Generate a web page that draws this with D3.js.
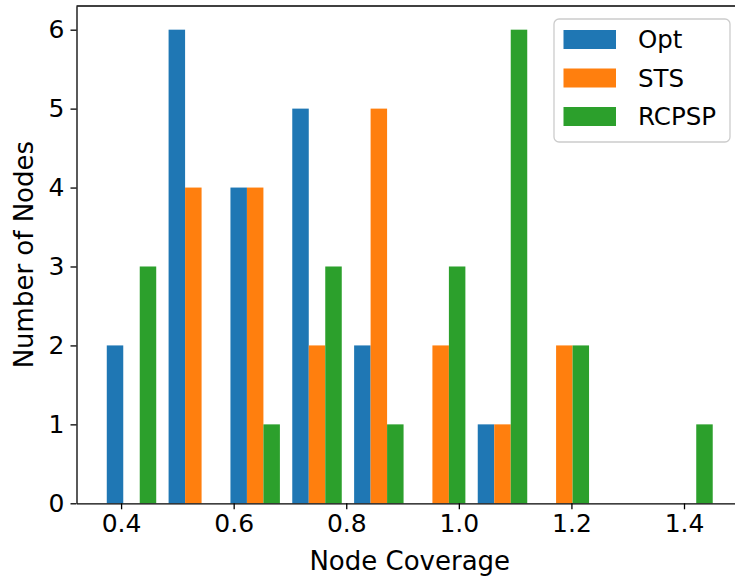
<!DOCTYPE html>
<html>
<head>
<meta charset="utf-8">
<script src="https://cdn.jsdelivr.net/npm/d3@7"></script>
<style>
  body { margin: 0; background: #fff; }
  svg { display: block; font-family: "DejaVu Sans", sans-serif; }
</style>
</head>
<body>
<svg id="chart" width="735" height="577"></svg>
<script>
// histogram bins (node coverage) and counts per method
var binEdges = [0.3636, 0.4734, 0.5833, 0.6931, 0.8030, 0.9128, 1.0226, 1.1325, 1.2423, 1.3522, 1.4620];
var optCounts = [2, 6, 4, 5, 2, 0, 1, 0, 0, 0];
var stsCounts = [0, 4, 4, 2, 5, 2, 1, 2, 0, 0];
var rcpspCounts = [3, 0, 1, 3, 1, 3, 6, 2, 0, 1];
var seriesNames = ["Opt", "STS", "RCPSP"];
var seriesColors = ["#1f77b4", "#ff7f0e", "#2ca02c"];
var xTicks = [0.4, 0.6, 0.8, 1.0, 1.2, 1.4];
var yTicks = [0, 1, 2, 3, 4, 5, 6];

var allCounts = [optCounts, stsCounts, rcpspCounts];
var tickFont = 25;
var titleFont = 26;
var legendFont = 24.5;

var svg = d3.select("#chart");
var plotLeft = 76.5, plotRight = 743, plotTop = 6, plotBottom = 503.3;

var x = d3.scaleLinear().domain([0.3208, 1.5048]).range([plotLeft, plotRight]);
var y = d3.scaleLinear().domain([0, 6.3]).range([plotBottom, plotTop]);

// bars, matplotlib style: 80% of the bin, split between the series
var bars = [];
for (var s = 0; s < allCounts.length; s++) {
    for (var i = 0; i < binEdges.length - 1; i++) {
        var w = binEdges[i+1] - binEdges[i];
        var bw = 0.8 * w / allCounts.length;
        var x0 = binEdges[i] + 0.1 * w + s * bw;
        if (allCounts[s][i] > 0) {
            bars.push({x0: x0, x1: x0 + bw, v: allCounts[s][i], s: s});
        }
    }
}

svg.selectAll("rect.bar")
    .data(bars)
    .enter()
    .append("rect")
        .attr("class", "bar")
        .attr("x", d => x(d.x0))
        .attr("width", d => x(d.x1) - x(d.x0))
        .attr("y", d => y(d.v))
        .attr("height", d => y(0) - y(d.v))
        .attr("fill", d => seriesColors[d.s]);

// axes
var xAxis = svg.append("g")
    .attr("transform", "translate(0," + plotBottom + ")")
    .call(d3.axisBottom(x).tickValues(xTicks).tickFormat(d3.format(".1f"))
        .tickSize(6).tickSizeOuter(0).tickPadding(5));

var yAxis = svg.append("g")
    .attr("transform", "translate(" + plotLeft + ",0)")
    .call(d3.axisLeft(y).tickValues(yTicks).tickFormat(d3.format("d"))
        .tickSize(6).tickSizeOuter(0).tickPadding(6));

[xAxis, yAxis].forEach(function(g){
    g.selectAll("text")
        .attr("font-family", "DejaVu Sans")
        .attr("font-size", tickFont)
        .attr("fill", "#000");
    g.selectAll("line").attr("stroke", "#000").attr("stroke-width", 1.3);
    g.select(".domain").attr("stroke", "#000").attr("stroke-width", 1.3);
});

// top spine (right spine falls outside the picture)
svg.append("line")
    .attr("x1", plotLeft).attr("x2", plotRight)
    .attr("y1", plotTop).attr("y2", plotTop)
    .attr("stroke", "#000").attr("stroke-width", 1.3);

// axis titles
svg.append("text")
    .attr("x", (plotLeft + plotRight) / 2)
    .attr("y", 570)
    .attr("text-anchor", "middle")
    .attr("font-size", titleFont)
    .text("Node Coverage");

svg.append("text")
    .attr("transform", "translate(33," + ((plotTop + plotBottom) / 2) + ") rotate(-90)")
    .attr("text-anchor", "middle")
    .attr("font-size", titleFont)
    .text("Number of Nodes");

// legend
var legend = svg.append("g").attr("transform", "translate(554,19)");
legend.append("rect")
    .attr("width", 176).attr("height", 123)
    .attr("rx", 5).attr("ry", 5)
    .attr("fill", "#fff").attr("fill-opacity", 0.8)
    .attr("stroke", "#cccccc").attr("stroke-width", 1.3);

var items = legend.selectAll("g.item")
    .data(seriesNames)
    .enter()
    .append("g")
        .attr("class", "item")
        .attr("transform", (d, i) => "translate(0," + (11 + i * 38.5) + ")");

items.append("rect")
    .attr("x", 9.5).attr("width", 52.5)
    .attr("height", 19)
    .attr("fill", (d, i) => seriesColors[i]);

items.append("text")
    .attr("x", 84)
    .attr("y", 18)
    .attr("font-size", legendFont)
    .text(d => d);
</script>
</body>
</html>
